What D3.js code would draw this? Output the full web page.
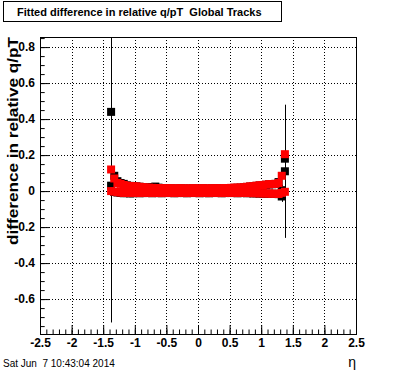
<!DOCTYPE html>
<meta charset="utf-8">
<head>
    <title>Fitted difference in relative q/pT</title>
    <script type="text/javascript" src="https://cdn.jsdelivr.net/npm/d3@7"></script>
    <style>
        body { margin: 0; padding: 0; background: #fff; }
        text { font-family: "Liberation Sans", Arial, Helvetica, sans-serif; white-space: pre; }
    </style>
</head>
<body>
<script>
    // eta bin centres (bin width 0.05)
    const etaBins = [-1.375, -1.325, -1.275, -1.225, -1.175, -1.125, -1.075, -1.025, -0.975, -0.925,
        -0.875, -0.825, -0.775, -0.725, -0.675, -0.625, -0.575, -0.525, -0.475, -0.425,
        -0.375, -0.325, -0.275, -0.225, -0.175, -0.125, -0.075, -0.025, 0.025, 0.075,
        0.125, 0.175, 0.225, 0.275, 0.325, 0.375, 0.425, 0.475, 0.525, 0.575,
        0.625, 0.675, 0.725, 0.775, 0.825, 0.875, 0.925, 0.975, 1.025, 1.075,
        1.125, 1.175, 1.225, 1.275, 1.325, 1.375];

    // black markers, two overlaid profiles
    const black1 = [0.440, 0.085, 0.055, 0.045, 0.040, 0.032, 0.029, 0.028, 0.026, 0.024,
        0.022, 0.020, 0.020, 0.022, 0.025, 0.019, 0.016, 0.015, 0.014, 0.015,
        0.013, 0.014, 0.015, 0.013, 0.014, 0.013, 0.015, 0.014, 0.013, 0.015,
        0.014, 0.013, 0.015, 0.014, 0.015, 0.014, 0.016, 0.015, 0.017, 0.018,
        0.018, 0.019, 0.020, 0.023, 0.025, 0.026, 0.029, 0.031, 0.032, 0.035,
        0.037, 0.038, 0.040, 0.050, -0.030, 0.180];
    const black1Err = [1.170, 0.030, 0.012, 0.008, 0.006, 0.005, 0.005, 0.004, 0.004, 0.004,
        0.004, 0.004, 0.004, 0.004, 0.004, 0.004, 0.004, 0.004, 0.004, 0.004,
        0.004, 0.004, 0.004, 0.004, 0.004, 0.004, 0.004, 0.004, 0.004, 0.004,
        0.004, 0.004, 0.004, 0.004, 0.004, 0.004, 0.004, 0.004, 0.004, 0.004,
        0.004, 0.004, 0.004, 0.004, 0.004, 0.004, 0.004, 0.004, 0.004, 0.005,
        0.005, 0.006, 0.008, 0.012, 0.030, 0.050];
    const black2 = [0.030, -0.005, -0.008, -0.010, -0.012, -0.011, -0.013, -0.012, -0.010, -0.012,
        -0.011, -0.011, -0.010, -0.012, -0.010, -0.011, -0.012, -0.009, -0.011, -0.010,
        -0.012, -0.011, -0.009, -0.011, -0.012, -0.010, -0.011, -0.009, -0.012, -0.010,
        -0.011, -0.012, -0.009, -0.011, -0.010, -0.012, -0.011, -0.009, -0.011, -0.010,
        -0.012, -0.011, -0.010, -0.012, -0.011, -0.013, -0.012, -0.014, -0.013, -0.015,
        -0.014, -0.016, -0.015, -0.017, 0.005, 0.110];
    const black2Err = [0.040, 0.012, 0.008, 0.006, 0.005, 0.005, 0.004, 0.004, 0.004, 0.004,
        0.004, 0.004, 0.004, 0.004, 0.004, 0.004, 0.004, 0.004, 0.004, 0.004,
        0.004, 0.004, 0.004, 0.004, 0.004, 0.004, 0.004, 0.004, 0.004, 0.004,
        0.004, 0.004, 0.004, 0.004, 0.004, 0.004, 0.004, 0.004, 0.004, 0.004,
        0.004, 0.004, 0.004, 0.004, 0.004, 0.004, 0.004, 0.004, 0.004, 0.005,
        0.005, 0.006, 0.008, 0.012, 0.030, 0.370];

    // red markers, two overlaid profiles
    const red1 = [0.120, 0.070, 0.045, 0.040, 0.034, 0.030, 0.028, 0.027, 0.026, 0.024,
        0.022, 0.020, 0.019, 0.018, 0.016, 0.017, 0.015, 0.016, 0.015, 0.016,
        0.014, 0.015, 0.016, 0.014, 0.015, 0.014, 0.016, 0.015, 0.014, 0.016,
        0.015, 0.014, 0.016, 0.015, 0.016, 0.015, 0.017, 0.016, 0.018, 0.019,
        0.019, 0.020, 0.021, 0.024, 0.026, 0.027, 0.030, 0.032, 0.033, 0.036,
        0.038, 0.039, 0.040, 0.045, 0.085, 0.205];
    const red2 = [0.000, -0.003, -0.006, -0.008, -0.010, -0.009, -0.011, -0.010, -0.008, -0.011,
        -0.009, -0.010, -0.008, -0.011, -0.009, -0.010, -0.011, -0.008, -0.010, -0.009,
        -0.011, -0.010, -0.008, -0.010, -0.011, -0.009, -0.010, -0.008, -0.011, -0.009,
        -0.010, -0.011, -0.008, -0.010, -0.009, -0.011, -0.010, -0.008, -0.010, -0.009,
        -0.011, -0.010, -0.009, -0.011, -0.010, -0.012, -0.011, -0.013, -0.012, -0.014,
        -0.013, -0.015, -0.014, -0.016, -0.010, -0.004];

    const xMajor = [-2.5, -2, -1.5, -1, -0.5, 0, 0.5, 1, 1.5, 2, 2.5];
    const yMajor = [-0.6, -0.4, -0.2, 0, 0.2, 0.4, 0.6, 0.8];

    const width = 396, height = 372;
    const frame = {left: 40, right: 356, top: 37, bottom: 334};
    const markerSize = 8;

    const svg = d3.select("body")
        .append("svg")
        .attr("width", width)
        .attr("height", height);

    const x = d3.scaleLinear().domain([-2.5, 2.5]).range([frame.left, frame.right]);
    const y = d3.scaleLinear().domain([-0.794, 0.856]).range([frame.bottom, frame.top]);

    svg.append("clipPath").attr("id", "clip")
        .append("rect")
        .attr("x", frame.left).attr("y", frame.top)
        .attr("width", frame.right - frame.left).attr("height", frame.bottom - frame.top);

    // dotted grid
    const grid = svg.append("g").attr("stroke", "black").attr("stroke-dasharray", "1,2");
    grid.selectAll(".gx")
        .data(xMajor.filter(d => d > -2.5 && d < 2.5))
        .enter().append("line")
        .attr("x1", d => Math.round(x(d)) + 0.5).attr("x2", d => Math.round(x(d)) + 0.5)
        .attr("y1", frame.top).attr("y2", frame.bottom);
    grid.selectAll(".gy")
        .data(yMajor)
        .enter().append("line")
        .attr("x1", frame.left).attr("x2", frame.right)
        .attr("y1", d => Math.round(y(d)) + 0.5).attr("y2", d => Math.round(y(d)) + 0.5);

    // markers with error bars
    const plot = svg.append("g").attr("clip-path", "url(#clip)");

    function drawSeries(values, errors, color) {
        const pts = values.map((v, i) => ({eta: etaBins[i], v: v, e: errors ? errors[i] : 0}));
        const g = plot.append("g");
        g.selectAll("line")
            .data(pts.filter(d => d.e > 0))
            .enter().append("line")
            .attr("x1", d => Math.round(x(d.eta)) + 0.5)
            .attr("x2", d => Math.round(x(d.eta)) + 0.5)
            .attr("y1", d => y(d.v - d.e))
            .attr("y2", d => y(d.v + d.e))
            .attr("stroke", "black");
        g.selectAll("rect")
            .data(pts)
            .enter().append("rect")
            .attr("x", d => x(d.eta) - markerSize / 2)
            .attr("y", d => y(d.v) - markerSize / 2)
            .attr("width", markerSize)
            .attr("height", markerSize)
            .attr("fill", color);
    }

    drawSeries(black1, black1Err, "black");
    drawSeries(black2, black2Err, "black");
    drawSeries(red1, null, "#ff0000");
    drawSeries(red2, null, "#ff0000");

    // axes (ticks inside the frame, ROOT style)
    const fmt = d => String(d);
    svg.append("g")
        .attr("transform", `translate(${frame.left},0)`)
        .call(d3.axisLeft(y).tickValues(yMajor).tickSize(-9.5).tickPadding(5).tickFormat(fmt));
    svg.append("g")
        .attr("transform", `translate(${frame.left},0)`)
        .call(d3.axisLeft(y).tickValues(d3.range(-0.75, 0.851, 0.05)).tickSize(-4.7).tickFormat(""));

    svg.append("g")
        .attr("transform", `translate(0,${frame.bottom})`)
        .call(d3.axisBottom(x).tickValues(xMajor).tickSize(-9).tickPadding(4).tickFormat(fmt));
    svg.append("g")
        .attr("transform", `translate(0,${frame.bottom})`)
        .call(d3.axisBottom(x).tickValues(d3.range(-2.4, 2.45, 0.1)).tickSize(-4.5).tickFormat(""));

    svg.selectAll(".domain").remove();
    svg.selectAll(".tick text")
        .attr("font-family", "'Liberation Sans', Arial, sans-serif")
        .attr("font-size", 12)
        .attr("font-weight", "bold")
        .attr("fill", "black");

    // frame
    svg.append("rect")
        .attr("x", frame.left + 0.5).attr("y", frame.top + 0.5)
        .attr("width", frame.right - frame.left).attr("height", frame.bottom - frame.top)
        .attr("fill", "none").attr("stroke", "black");

    // title box
    svg.append("rect")
        .attr("x", 3.5).attr("y", 1.5).attr("width", 278).attr("height", 20)
        .attr("fill", "white").attr("stroke", "black");
    svg.append("text")
        .attr("x", 17).attr("y", 16)
        .attr("font-size", 11).attr("font-weight", "bold")
        .text("Fitted difference in relative q/pT  Global Tracks");

    // axis titles
    svg.append("text")
        .attr("transform", `translate(18,${frame.top}) rotate(-90)`)
        .attr("text-anchor", "end")
        .attr("font-size", 14.5).attr("font-weight", "bold")
        .attr("textLength", 208).attr("lengthAdjust", "spacingAndGlyphs")
        .text("difference in relative q/pT");
    svg.append("text")
        .attr("x", frame.right).attr("y", 367)
        .attr("text-anchor", "end")
        .attr("font-size", 14)
        .text("η");

    // date stamp
    svg.append("text")
        .attr("x", 3).attr("y", 367)
        .attr("font-size", 10)
        .text("Sat Jun  7 10:43:04 2014");
</script>
</body>
</html>
